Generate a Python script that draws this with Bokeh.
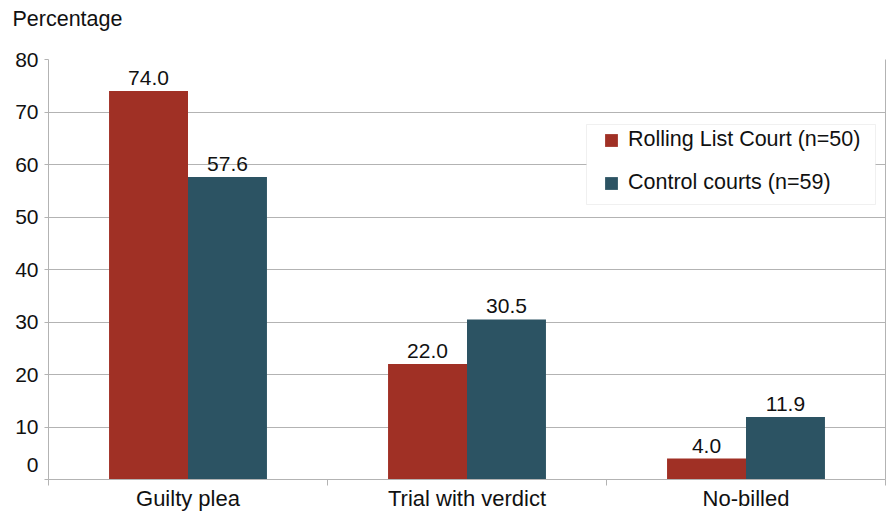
import numpy as np
from bokeh.plotting import figure
from bokeh.models import (ColumnDataSource, FixedTicker, Range1d, Legend, LegendItem,
                          LinearAxis, BoxAnnotation, Title)
from bokeh.core.properties import value
from bokeh.embed import file_html
from bokeh.resources import INLINE

categories = ["Guilty plea", "Trial with verdict", "No-billed"]
rolling = [74.0, 22.0, 4.0]
control = [57.6, 30.5, 11.9]
series_names = ["Rolling List Court (n=50)", "Control courts (n=59)"]
y_ticks = [0, 10, 20, 30, 40, 50, 60, 70, 80]
y_title = "Percentage"

RED = "#A03025"
TEAL = "#2C5363"
GRID = "#B3B3B3"
FONT = "Liberation Sans"
FS = "21px"
TXT = "#111111"

W, H = 890, 513
B_LEFT, B_RIGHT, B_TOP, B_BOTTOM = 48, 5, 59, 33
frame_h = H - B_TOP - B_BOTTOM
y_max = y_ticks[-1]

bar_w = 0.283
idx = np.arange(len(categories)) + 0.5

p = figure(width=W, height=H, output_backend="svg", toolbar_location=None,
           x_range=Range1d(0, len(categories)), y_range=Range1d(0, y_max),
           min_border_left=B_LEFT, min_border_right=B_RIGHT, min_border_top=B_TOP,
           min_border_bottom=B_BOTTOM)
p.outline_line_color = None
p.background_fill_color = "white"
p.border_fill_color = "white"

src_r = ColumnDataSource(dict(x=idx - bar_w / 2, top=rolling, lab=[f"{v:.1f}" for v in rolling]))
src_c = ColumnDataSource(dict(x=idx + bar_w / 2, top=control, lab=[f"{v:.1f}" for v in control]))

r1 = p.vbar(x="x", top="top", width=bar_w, bottom=0, source=src_r, fill_color=RED, line_color=None)
r2 = p.vbar(x="x", top="top", width=bar_w, bottom=0, source=src_c, fill_color=TEAL, line_color=None)

for s in (src_r, src_c):
    p.text(x="x", y="top", text="lab", source=s, text_align="center", text_baseline="bottom",
           y_offset=-6, text_font=value(FONT), text_font_size=FS, text_color=TXT)

# grid
p.xgrid.grid_line_color = None
p.ygrid.ticker = FixedTicker(ticks=y_ticks)
p.ygrid.grid_line_color = GRID
p.ygrid.grid_line_width = 1

# y axis: tick marks drawn as minor ticks; the "0" label sits a little above the baseline
zero_shift = 15 * y_max / frame_h
label_pos = [y_ticks[0] + zero_shift] + y_ticks[1:]
p.yaxis.ticker = FixedTicker(ticks=label_pos, minor_ticks=y_ticks)
p.yaxis.major_label_overrides = {label_pos[0]: str(y_ticks[0])}
p.yaxis.axis_line_color = GRID
p.yaxis.major_tick_line_color = None
p.yaxis.major_tick_out = 4
p.yaxis.major_tick_in = 0
p.yaxis.minor_tick_line_color = GRID
p.yaxis.minor_tick_out = 4
p.yaxis.minor_tick_in = 0
p.yaxis.major_label_text_font = FONT
p.yaxis.major_label_text_font_size = FS
p.yaxis.major_label_text_color = TXT
p.yaxis.major_label_standoff = 6

# x axis
p.xaxis.ticker = FixedTicker(ticks=list(idx), minor_ticks=list(range(len(categories) + 1)))
p.xaxis.major_label_overrides = {float(v): c for v, c in zip(idx, categories)}
p.xaxis.axis_line_color = GRID
p.xaxis.major_tick_line_color = None
p.xaxis.major_tick_out = 0
p.xaxis.major_tick_in = 0
p.xaxis.minor_tick_line_color = GRID
p.xaxis.minor_tick_out = 6
p.xaxis.minor_tick_in = 0
p.xaxis.major_label_text_font = FONT
p.xaxis.major_label_text_font_size = "22px"
p.xaxis.major_label_text_color = TXT
p.xaxis.major_label_standoff = 0

# right border axis (no labels)
right_ax = LinearAxis(ticker=FixedTicker(ticks=[]), axis_line_color=GRID,
                      major_label_text_font_size="0px", minor_tick_line_color=None,
                      major_tick_line_color=None, major_tick_out=0)
p.add_layout(right_ax, "right")

# legend box
box = BoxAnnotation(left=538, right=827, top=355, bottom=275,
                    left_units="screen", right_units="screen", top_units="screen", bottom_units="screen",
                    fill_color="white", fill_alpha=1.0, line_color="#CCCCCC", line_width=1)
p.add_layout(box)

legend = Legend(items=[LegendItem(label=series_names[0], renderers=[r1]),
                       LegendItem(label=series_names[1], renderers=[r2])],
                location=(555, 284), border_line_color=None, background_fill_alpha=0.0,
                label_text_font=FONT, label_text_font_size="21.5px", label_text_color=TXT,
                glyph_width=16, glyph_height=16, label_height=24, label_standoff=9, spacing=18,
                padding=0, margin=0)
p.add_layout(legend, "center")

# spacer title (closest to the frame) and the "Percentage" title above it
spacer = Title(text=" ", text_font_size="10px", standoff=16)
p.add_layout(spacer, "above")
ttl = Title(text=y_title, align="left", offset=-36, standoff=0, vertical_align="bottom",
            text_font=FONT, text_font_size="21.5px", text_font_style="normal", text_color=TXT)
p.add_layout(ttl, "above")

open("out.html", "w").write(file_html(p, INLINE))
